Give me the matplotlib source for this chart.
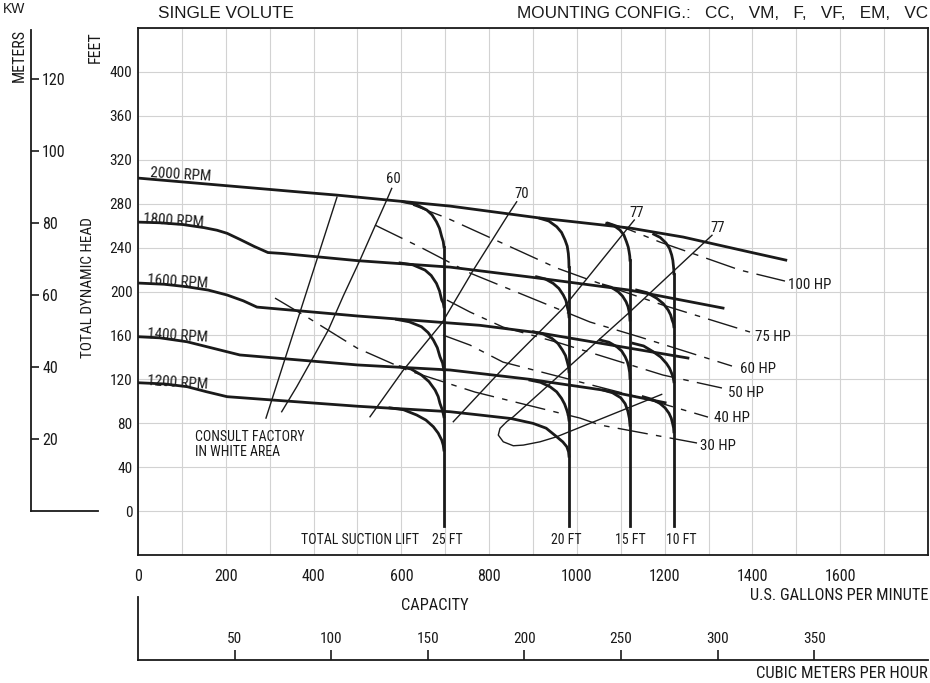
import numpy as np
import matplotlib
matplotlib.use('Agg')
import matplotlib.pyplot as plt
from matplotlib import font_manager

# a narrow face for most of the lettering, if one is installed
narrow = [f.name for f in font_manager.fontManager.ttflist
          if f.stretch in ('condensed', 'semi-condensed') and f.style == 'normal'
          and f.weight in (400, 'normal', 'regular')]
pref = ['Liberation Sans Narrow', 'Arial Narrow', 'Roboto Condensed', 'Open Sans Condensed',
        'Noto Sans Condensed', 'Noto Sans', 'DejaVu Sans']
narrow = [n for n in pref if n in narrow] + narrow
if narrow:
    plt.rcParams['font.family'] = [narrow[0], 'Liberation Sans', 'DejaVu Sans']
    plt.rcParams['font.stretch'] = 'condensed'
    k = 1.0
else:
    plt.rcParams['font.family'] = ['Liberation Sans', 'DejaVu Sans']
    k = 0.86
plt.rcParams['lines.scale_dashes'] = False

W, H = 930, 683
ink = '#1a1a1a'

# ---- head curves (capacity in US gpm, head in feet)
rpm_labels = ['2000 RPM', '1800 RPM', '1600 RPM', '1400 RPM', '1200 RPM']
rpm_label_q = [27, 11, 20, 20, 20]
rpm_label_h = [304.3, 262, 206.8, 157.7, 114.8]
rpm_q = [
    [0, 369, 453, 711, 916, 1000, 1121, 1242, 1394, 1476],
    [0, 50, 102, 150, 180, 203, 232, 265, 296, 330, 500, 711, 893, 1121, 1333],
    [0, 60, 112, 160, 203, 240, 271, 500, 779, 916, 1253],
    [0, 50, 112, 171, 232, 500, 711, 893, 1060, 1201],
    [0, 60, 112, 156, 203, 500, 711, 779, 850, 900, 930, 954, 968, 977, 981, 982],
]
rpm_h = [
    [303.3, 290.6, 287.8, 277.8, 266.9, 263.2, 257.8, 249.6, 235.9, 228.6],
    [263.2, 262.6, 261, 258.2, 255.8, 253, 247.5, 241, 235.5, 234.6, 228.1, 222.2, 213.2, 201.2, 184.9],
    [207.7, 206.6, 204.3, 201.3, 196.8, 191.5, 185.8, 177.7, 169.2, 162.2, 139.4],
    [158.8, 157.8, 154.2, 148.3, 142.2, 133.1, 128.5, 120, 110.2, 98.7],
    [116.9, 115.8, 113.3, 108.7, 104.2, 95.5, 90.5, 87.5, 84.3, 79.9, 75.5, 67.7, 63, 58.6, 54, 50],
]

# ---- total suction lift curves
lift_labels = ['25 FT', '20 FT', '15 FT', '10 FT']
lift_label_q = [706, 977, 1123, 1237]
lift_q = [697, 982, 1121, 1221]
lift_top = [240.8, 222.5, 228.6, 216.2]
lift_bottom = -14
branch_q = [
    [[604, 632, 658, 670, 680, 687, 692, 695.5, 697],
     [597, 626, 654, 668, 680, 687, 692, 695.5, 697],
     [589, 618, 646, 661, 673, 682, 688, 694, 697],
     [597, 622, 646, 663, 677, 684, 688, 694, 697],
     [574, 605, 635, 656, 673, 684, 692, 695.5, 697]],
    [[916, 936, 954, 965, 973, 978, 980.5, 981.6, 982],
     [908, 928, 946, 959, 969, 975, 978, 981, 982],
     [901, 923, 943, 957, 967, 974, 978, 981, 982],
     [893, 917, 939, 954, 965, 972, 977, 980.5, 982]],
    [[1068, 1085, 1098, 1107, 1113, 1117, 1119, 1120.5, 1121],
     [1060, 1078, 1094, 1104, 1112, 1116.5, 1119, 1120.5, 1121],
     [1053, 1073, 1091, 1102, 1110, 1115, 1118, 1120.3, 1121],
     [1060, 1081, 1100, 1110, 1116, 1119.5, 1121]],
    [[1175, 1190, 1203, 1211, 1216, 1218.6, 1220, 1220.8, 1221],
     [1136, 1160, 1182, 1197, 1208, 1213.5, 1217, 1220, 1221],
     [1128, 1152, 1174, 1191, 1204, 1211, 1216, 1219.5, 1221],
     [1151, 1171, 1189, 1201, 1210, 1215, 1218, 1220.3, 1221]],
]
branch_h = [
    [[281.7, 279.5, 274.2, 269.8, 263.5, 257.5, 249.9, 245.5, 240.8],
     [226, 224.3, 219.5, 214.6, 207.4, 200.5, 192.2, 189.5, 186.1],
     [174.6, 172.4, 167.9, 162.6, 155.8, 148.8, 140.6, 134.8, 128.5],
     [131.5, 129.4, 123.9, 117.9, 110.2, 104.3, 98.1, 91.5, 85.9],
     [94, 92.3, 87.5, 82.9, 76.8, 71, 64.7, 60, 55.6]],
    [[266.6, 264.2, 259, 253.8, 246.9, 241.3, 234.7, 228.5, 222.5],
     [213.4, 211.4, 207.4, 202.8, 196.8, 191.8, 186.1, 181.5, 177],
     [163.3, 161.3, 157.3, 152.6, 146.7, 141.7, 136, 131.3, 126.9],
     [119.3, 117.3, 113.2, 108.6, 102.7, 97.5, 92, 87.3, 82.9]],
    [[262.1, 259.8, 256, 251.5, 245.3, 240.5, 236.2, 232.2, 228.6],
     [205.9, 203.9, 199.8, 195.8, 190.7, 186.2, 181.6, 177.6, 174],
     [155.8, 153.8, 149.7, 145.8, 140.6, 136, 131.5, 126.2, 120.9],
     [110.2, 107.8, 103.2, 97.8, 91.2, 84.6, 78.2]],
    [[252.2, 249.2, 244.2, 239.2, 233.2, 228.4, 223.2, 219.6, 216.2],
     [201.3, 198.9, 193.8, 188.9, 183.1, 178.8, 174, 170.8, 167.9],
     [152.8, 150.4, 145.1, 140.3, 134.5, 130.2, 125.4, 121.5, 117.8],
     [104.1, 101.8, 98.1, 94, 89, 84.6, 79.9, 75.8, 72.2]],
]

# ---- efficiency lines
eff_labels = ['', '60', '70', '77', '77']
eff_label_q = [0, 583, 875, 1137, 1320]
eff_label_h = [0, 302.5, 288.8, 271.5, 257.6]
eff_q = [
    [291.6, 453.4],
    [327.4, 361.6, 395.8, 433.6, 467.8, 505.8, 536.1, 566.7, 578.1],
    [528.6, 604.5, 692, 764, 847.6, 862.8],
    [718.4, 832.3, 968.3, 1130.8],
    [1193.2, 954, 916, 877.9, 855.1, 832.3, 820.9, 824.8, 840, 855.1, 1117.1, 1307.8],
]
eff_h = [
    [84.7, 286],
    [90.5, 113.2, 137.6, 164.9, 196, 228.6, 256, 283.3, 293.9],
    [85.9, 128.4, 171, 219.5, 272.6, 281.7],
    [81.4, 130.1, 184.7, 265.1],
    [106.3, 67.7, 63.1, 60.1, 59.5, 63.1, 69.2, 75.3, 81.4, 85.9, 180.1, 251.2],
]

# ---- horsepower lines
hp_labels = ['100 HP', '75 HP', '60 HP', '50 HP', '40 HP', '30 HP']
hp_label_q = [1481, 1406, 1372, 1344, 1312, 1280]
hp_label_h = [205.9, 158.6, 129.4, 107.5, 84.8, 59.3]
hp_q = [
    [1068.6, 1121, 1189.4, 1280.5, 1371.6, 1474.2],
    [626.6, 704, 854.4, 954.7, 1029.9, 1196.2, 1394.4],
    [540, 647.1, 756.5, 1029.9, 1143.8, 1353.4],
    [704, 756.5, 831.6, 961.5, 1196.2, 1330.6],
    [694.9, 756.5, 831.6, 1166.6, 1298.7],
    [312.2, 385.1, 499, 612.9, 767.8, 1007.1, 1052.6, 1273.7],
]
hp_h = [
    [263.2, 256, 245, 232.3, 219.5, 209.5],
    [278.7, 266.9, 239.6, 221.3, 210.4, 187.6, 163.1],
    [260.5, 239.6, 216.8, 172.2, 158.5, 132.1],
    [192.2, 181.3, 167.6, 153, 123.9, 112.1],
    [160.3, 151.2, 135.7, 101.1, 85.6],
    [194, 176.7, 148.5, 128.4, 108.4, 84.7, 78.4, 62],
]

# ---- axis scales
q_ticks = np.arange(0, 1801, 100)
q_ticklabels = [str(v) if (v % 200 == 0 and v <= 1600) else '' for v in q_ticks]
h_ticks = np.arange(-40, 441, 40)
h_ticklabels = [str(v) if 0 <= v <= 400 else '' for v in h_ticks]
m_ticks = [20, 40, 60, 80, 100, 120]
cmh_ticks = [50, 100, 150, 200, 250, 300, 350]
GPM_PER_CMH = 4.40287
M_PER_FT = 0.3048

fig = plt.figure(figsize=(W / 100, H / 100), dpi=100)


def fx(x):
    return x / W


def fy(y):
    return 1 - y / H


ax = fig.add_axes([fx(138), fy(555), 790 / W, 527 / H])
ax.set_xlim(0, 1800)
ax.set_ylim(-40, 440)
ax.set_xticks(q_ticks)
ax.set_xticklabels(q_ticklabels)
ax.set_yticks(h_ticks)
ax.set_yticklabels(h_ticklabels)
ax.tick_params(length=0, colors=ink)
ax.tick_params(axis='x', pad=10, labelsize=11.5 * k)
ax.tick_params(axis='y', pad=4, labelsize=11 * k)
ax.grid(True, color='#d2d2d2', lw=0.8)
ax.set_axisbelow(True)
for s in ax.spines.values():
    s.set_linewidth(1.3)
    s.set_color(ink)

# head curves
for q, h in zip(rpm_q, rpm_h):
    ax.plot(q, h, color=ink, lw=2.0)
for lab, q, h in zip(rpm_labels, rpm_label_q, rpm_label_h):
    ax.text(q, h, lab, fontsize=10.8 * k, rotation=-3.5, rotation_mode='anchor',
            ha='left', va='baseline', color=ink)

# suction lift
for i in range(len(lift_q)):
    ax.plot([lift_q[i], lift_q[i]], [lift_top[i], lift_bottom], color=ink, lw=2.0)
    for q, h in zip(branch_q[i], branch_h[i]):
        ax.plot(q, h, color=ink, lw=2.0)
    ax.text(lift_label_q[i], -26.3, lift_labels[i], fontsize=10 * k, ha='center', va='center', color=ink)
ax.text(371, -26.3, 'TOTAL SUCTION LIFT', fontsize=10 * k, ha='left', va='center', color=ink)

# efficiency
for q, h in zip(eff_q, eff_h):
    ax.plot(q, h, color=ink, lw=1.0)
for lab, q, h in zip(eff_labels, eff_label_q, eff_label_h):
    if lab:
        ax.text(q, h, lab, fontsize=10.5 * k, ha='center', va='center', color=ink)

# horsepower
for q, h in zip(hp_q, hp_h):
    ax.plot(q, h, color=ink, lw=1.0, linestyle=(0, (22, 6, 4, 6)))
for lab, q, h in zip(hp_labels, hp_label_q, hp_label_h):
    ax.text(q, h, lab, fontsize=10.8 * k, ha='left', va='center', color=ink)

ax.text(131, 74, 'CONSULT FACTORY\nIN WHITE AREA', fontsize=10 * k, ha='left', va='top',
        linespacing=1.15, color=ink)

# meters scale
ax_m = fig.add_axes([fx(31), fy(511.1), 67 / W, 483.1 / H])
ax_m.set_ylim(0, 440 * M_PER_FT)
ax_m.set_xlim(0, 1)
ax_m.patch.set_visible(False)
ax_m.spines['top'].set_visible(False)
ax_m.spines['right'].set_visible(False)
ax_m.spines['left'].set_bounds(0, 133.5)
for s in ['left', 'bottom']:
    ax_m.spines[s].set_linewidth(1.3)
    ax_m.spines[s].set_color(ink)
ax_m.set_xticks([])
ax_m.set_yticks(m_ticks)
ax_m.tick_params(axis='y', direction='in', length=6, width=1.2, pad=-8, labelsize=11.5 * k, colors=ink)
for t in ax_m.get_yticklabels():
    t.set_horizontalalignment('left')

# cubic meters per hour scale
ax_q = fig.add_axes([fx(138), fy(660), 790 / W, 63 / H])
ax_q.set_xlim(0, 1800 / GPM_PER_CMH)
ax_q.set_ylim(0, 1)
ax_q.patch.set_visible(False)
ax_q.spines['top'].set_visible(False)
ax_q.spines['right'].set_visible(False)
for s in ['left', 'bottom']:
    ax_q.spines[s].set_linewidth(1.3)
    ax_q.spines[s].set_color(ink)
ax_q.set_yticks([])
ax_q.set_xticks(cmh_ticks)
ax_q.tick_params(axis='x', direction='in', length=7, width=1.2, pad=-20, labelsize=11 * k, colors=ink)

# titles and axis names
fig.text(fx(158), fy(14), 'SINGLE VOLUTE', fontsize=12.3, family='Liberation Sans',
         stretch='normal', va='center', color=ink)
fig.text(fx(928), fy(14), 'MOUNTING CONFIG.:   CC,   VM,   F,   VF,   EM,   VC', fontsize=12.3,
         family='Liberation Sans', stretch='normal', ha='right', va='center', color=ink)
fig.text(fx(3), fy(9), 'KW', fontsize=10, family='Liberation Sans', stretch='normal',
         va='center', color=ink)
fig.text(fx(19), fy(56), 'METERS', fontsize=11.5 * k, rotation=90, ha='center', va='center', color=ink)
fig.text(fx(95), fy(47), 'FEET', fontsize=11.5 * k, rotation=90, ha='center', va='center', color=ink)
fig.text(fx(88), fy(288), 'TOTAL DYNAMIC HEAD', fontsize=11 * k, rotation=90, ha='center',
         va='center', color=ink)
fig.text(fx(435), fy(605), 'CAPACITY', fontsize=11.8 * k, ha='center', va='center', color=ink)
fig.text(fx(928), fy(595), 'U.S. GALLONS PER MINUTE', fontsize=11.8 * k, ha='right', va='center', color=ink)
fig.text(fx(928), fy(673), 'CUBIC METERS PER HOUR', fontsize=12 * k, ha='right', va='center', color=ink)

fig.savefig('out.png', dpi=100)
